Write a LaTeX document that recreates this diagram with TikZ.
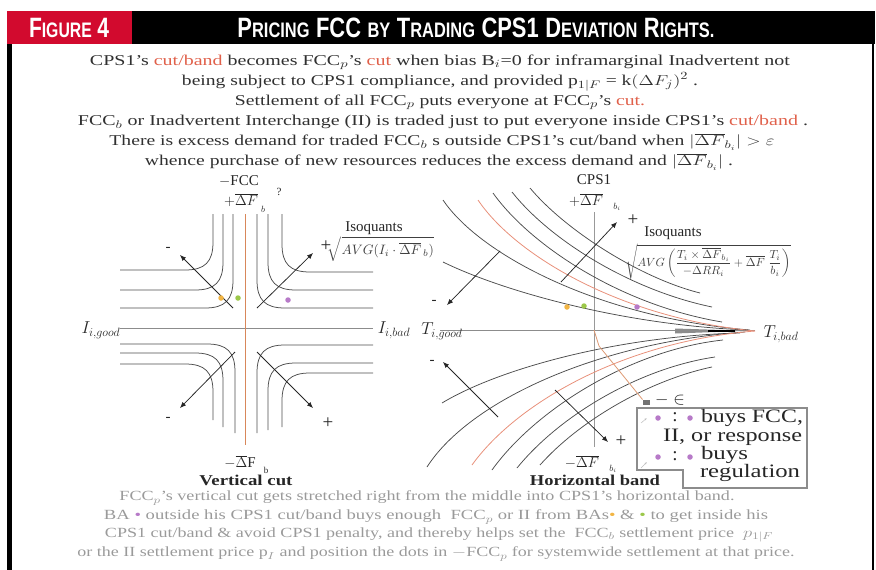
\documentclass[tikz,border=0pt]{standalone}
\usepackage{fontspec}
\setmainfont{Liberation Serif}
\newfontfamily\hdfont{Liberation Sans}
\usepackage{graphicx}
\usetikzlibrary{arrows.meta}
\definecolor{hdred}{HTML}{D20A2E}
\definecolor{cutred}{HTML}{E0604A}
\definecolor{curvered}{HTML}{E8907A}
\definecolor{axisorange}{HTML}{D8875A}
\definecolor{dotorange}{HTML}{F2B544}
\definecolor{dotgreen}{HTML}{9CC84A}
\definecolor{dotpurple}{HTML}{B77AC8}
\definecolor{bodytext}{HTML}{303030}
\definecolor{foottext}{HTML}{9A9A9A}
\newcommand\hdL[1]{{\fontsize{28}{28}\selectfont #1}}
\newcommand\hdS[1]{{\fontsize{21}{21}\selectfont #1}}
\newcommand\fitw[2]{\resizebox{#1}{\height}{#2}}
\begin{document}
\begin{tikzpicture}[x=1pt,y=-1pt,
  every node/.style={inner sep=0pt, outer sep=0pt},
  body/.style={text=bodytext, font=\fontsize{15}{16}\selectfont},
  foot/.style={text=foottext, font=\fontsize{14}{15}\selectfont},
  lab/.style={text=black!85, font=\fontsize{15}{15}\selectfont},
  sublab/.style={text=black!85, font=\fontsize{9}{9}\selectfont},
  iso/.style={black!70, line width=0.75pt},
  isored/.style={curvered, line width=0.8pt},
  arr/.style={black!85, line width=0.75pt, -{Latex[length=6pt,width=5pt]}},
  pdot/.style={circle, fill=#1, minimum size=5.5pt},
  legtext/.style={text=black!85, font=\fontsize{19}{19}\selectfont},
]
\useasboundingbox (0,0) rectangle (876,570);
% ---------- header and frame ----------
\fill[hdred] (7,11) rectangle (132,44);
\fill[black] (132,11) rectangle (875,44);
\fill[black] (7,44) rectangle (12,570);
\draw[black, line width=1.2pt] (873,44) -- (873,570);
\node[text=white] (figlabel) at (69,28) {\hdfont\bfseries\fontsize{26}{26}\selectfont\fitw{80pt}{\hdL{F}\hdS{IGURE} \hdL{4}}};
\node[text=white] (title) at (476,28) {\hdfont\bfseries\fontsize{30}{30}\selectfont\fitw{477pt}{\hdL{P}\hdS{RICING} \hdL{FCC} \hdS{BY} \hdL{T}\hdS{RADING} \hdL{CPS1} \hdL{D}\hdS{EVIATION} \hdL{R}\hdS{IGHTS.}}};
% ---------- top text ----------
\node[body] (t1) at (440,62) {\fitw{700pt}{CPS1's \textcolor{cutred}{cut/band} becomes FCC$_p$'s \textcolor{cutred}{cut} when bias B$_i$=0 for inframarginal Inadvertent not}};
\node[body] (t2) at (440,82) {\fitw{516pt}{being subject to CPS1 compliance, and provided p$_{1|F}$ = k$(\Delta F_j)^2$ .}};
\node[body] (t3) at (440,102) {\fitw{410pt}{Settlement of all FCC$_p$ puts everyone at FCC$_p$'s \textcolor{cutred}{cut.}}};
\node[body] (t4) at (443,122) {\fitw{730pt}{FCC$_b$ or Inadvertent Interchange (II) is traded just to put everyone inside CPS1's \textcolor{cutred}{cut/band} .}};
\node[body] (t5) at (442,142) {\fitw{665pt}{There is excess demand for traded FCC$_b$ s outside CPS1's cut/band when $|\overline{\Delta F}_{b_i}| > \varepsilon$}};
\node[body] (t6) at (439,162) {\fitw{588pt}{whence purchase of new resources reduces the excess demand and $|\overline{\Delta F}_{b_i}|$ .}};
% ---------- left diagram ----------
\draw[black!45, line width=0.7pt] (120,328) -- (373,328);
\draw[axisorange, line width=0.8pt] (245,214) -- (245,445);
\begin{scope}[shift={(245,328)}]
 \foreach \dx/\dy in {32/58,22/38,12/20}
  \draw[iso] (-125,-\dy) -- (-\dx-28,-\dy) .. controls (-\dx-8,-\dy) and (-\dx,-\dy-8) .. (-\dx,-\dy-28) -- (-\dx,-114);
 \foreach \dx/\dy in {37/56,23/38,12/20}
  \draw[iso] (128,-\dy) -- (\dx+28,-\dy) .. controls (\dx+8,-\dy) and (\dx,-\dy-8) .. (\dx,-\dy-28) -- (\dx,-114);
 \foreach \dx/\dy/\e in {32/36/92,22/25/99,10/16/105}
  \draw[iso] (-125,\dy) -- (-\dx-28,\dy) .. controls (-\dx-8,\dy) and (-\dx,\dy+8) .. (-\dx,\dy+28) -- (-\dx,\e);
 \foreach \dx/\dy/\e in {37/45/99,23/35/102,12/17/105}
  \draw[iso] (128,\dy) -- (\dx+28,\dy) .. controls (\dx+8,\dy) and (\dx,\dy+8) .. (\dx,\dy+28) -- (\dx,\e);
\end{scope}
\coordinate (lula) at (233,308); \coordinate (lulb) at (180,255);
\coordinate (lura) at (257,308); \coordinate (lurb) at (313,253);
\coordinate (llla) at (235,352); \coordinate (lllb) at (180,408);
\coordinate (llra) at (257,352); \coordinate (llrb) at (313,408);
\draw[arr] (lula) -- (lulb);
\draw[arr] (lura) -- (lurb);
\draw[arr] (llla) -- (lllb);
\draw[arr] (llra) -- (llrb);
\node[lab] (lm1) at (168,249) {-};
\node[lab, font=\fontsize{19}{19}\selectfont] (lp1) at (326,246) {+};
\node[lab] (lm2) at (168,419) {-};
\node[lab, font=\fontsize{19}{19}\selectfont] (lp2) at (328,423) {+};
\node[pdot=dotorange] (ldo) at (221,298) {};
\node[pdot=dotgreen] (ldg) at (238,298) {};
\node[pdot=dotpurple] (ldp) at (288,300) {};
\node[lab] (ltopa) at (239,181) {$-$FCC};
\node[lab, font=\fontsize{11}{11}\selectfont] (ltopq) at (279,192) {?};
\node[lab] (ltopb) at (241,200) {$+\overline{\Delta F}$};
\node[sublab] (ltopc) at (263,209) {$b$};
\node[lab] (lisoq) at (374,228) {Isoquants};
\node[text=black!75] (lrad) at (381,249) {\resizebox{106pt}{!}{$\sqrt{AVG(I_i\cdot\overline{\Delta F}_{\,b})}$}};
\node[lab, font=\fontsize{17}{17}\selectfont] (ligood) at (101,330) {$I_{i,good}$};
\node[lab, font=\fontsize{17}{17}\selectfont] (libad) at (394,330) {$I_{i,bad}$};
\node[lab] (lbot) at (240,462) {$-\overline{\Delta}$F};
\node[sublab] (lbotb) at (266,470) {b};
\node[lab] (vcut) at (246,480) {\fitw{93pt}{\bfseries Vertical cut}};
% ---------- right diagram ----------
\draw[black!45, line width=0.7pt] (440,330) -- (755,330);
\draw[black!40, line width=0.7pt] (594,212) -- (594,447);
\draw[iso] (443,262) .. controls (500,290) and (620,325) .. (748,330);
\draw[iso] (443,200) .. controls (480,255) and (600,318) .. (750,330);
\draw[isored] (478,200) .. controls (515,255) and (620,318) .. (755,331);
\draw[iso] (493,193) .. controls (530,245) and (620,305) .. (722,322);
\draw[iso] (512,192) .. controls (550,240) and (630,290) .. (712,307);
\draw[iso] (530,188) .. controls (565,230) and (640,278) .. (700,293);
\draw[iso] (442,403) .. controls (500,368) and (620,336) .. (740,333);
\draw[iso] (427,467) .. controls (470,400) and (600,342) .. (745,332);
\draw[isored] (472,465) .. controls (515,405) and (620,342) .. (755,331);
\draw[iso] (492,470) .. controls (535,410) and (630,350) .. (723,340);
\draw[iso] (517,468) .. controls (560,415) and (640,368) .. (715,357);
\draw[iso] (540,465) .. controls (580,420) and (650,380) .. (712,367);
\fill[black!45] (675,328.5) -- (748,330.8) -- (675,333.5) -- cycle;
\draw[black, line width=1.6pt] (708,331) -- (735,331);
\coordinate (ra1) at (561,282); \coordinate (rb1) at (617,222);
\coordinate (ra2) at (500,251); \coordinate (rb2) at (447,305);
\coordinate (ra3) at (498,417); \coordinate (rb3) at (443,362);
\coordinate (ra4) at (555,390); \coordinate (rb4) at (608,442);
\draw[arr] (ra1) -- (rb1);
\draw[arr] (ra2) -- (rb2);
\draw[arr] (ra3) -- (rb3);
\draw[arr] (ra4) -- (rb4);
\node[lab, font=\fontsize{19}{19}\selectfont] (rp1) at (633,220) {+};
\node[lab] (rm1) at (434,302) {-};
\node[lab] (rm2) at (432,362) {-};
\node[lab, font=\fontsize{19}{19}\selectfont] (rp2) at (621,441) {+};
\node[pdot=dotorange] (rdo) at (567,307) {};
\node[pdot=dotgreen] (rdg) at (584,306) {};
\node[pdot=dotpurple] (rdp) at (637,307) {};
\node[lab] (rtopa) at (594,180) {CPS1};
\node[lab] (rtopb) at (586,200) {$+\overline{\Delta F}$};
\node[sublab] (rtopc) at (617,207) {$b_i$};
\node[lab] (risoq) at (673,233) {Isoquants};
\node[text=black!75] (rrad) at (708,262) {\resizebox{165pt}{!}{$\sqrt{AVG\left(\displaystyle\frac{T_i\times\overline{\Delta F}_{b_i}}{-\Delta RR_i}+\overline{\Delta F}\;\frac{T_i}{b_i}\right)}$}};
\node[lab, font=\fontsize{17}{17}\selectfont] (rtgood) at (442,331) {$T_{i,good}$};
\node[lab, font=\fontsize{17}{17}\selectfont] (rtbad) at (781,334) {$T_{i,bad}$};
\node[lab] (rbot) at (582,462) {$-\overline{\Delta F}$};
\node[sublab] (rbotb) at (613,469) {$b_i$};
\node[lab] (hband) at (595,480) {\fitw{130pt}{\bfseries Horizontal band}};
% epsilon marker and orange cut line
\node[fill=black!55, minimum width=7pt, minimum height=5pt] (epsmark) at (646,402) {};
\node[lab, font=\fontsize{18}{18}\selectfont] (epslab) at (670,400) {$-\in$};
\draw[axisorange!85, line width=0.8pt] (594,330) -- (599,346) -- (epsmark.north west);
% legend
\draw[black!45, line width=1.4pt] (637,408) -- (807,408) -- (807,488) -- (683,488) -- (683,470) -- (637,470) -- cycle;
\draw[black!25, line width=0.5pt, -{Latex[length=2.5pt,width=2pt]}] (641,423) -- (647,418);
\draw[black!25, line width=0.5pt, -{Latex[length=2.5pt,width=2pt]}] (641,468) -- (647,462);
\node[pdot=dotpurple] (lg1a) at (658,418) {};
\node[legtext] (lg1c) at (675,417) {:};
\node[pdot=dotpurple] (lg1b) at (690,418) {};
\node[legtext, anchor=west] (lg1t) at (701,418) {\fitw{102pt}{buys FCC,}};
\node[legtext, anchor=west] (lg2t) at (663,437) {\fitw{139pt}{II, or response}};
\node[pdot=dotpurple] (lg3a) at (658,457) {};
\node[legtext] (lg3c) at (675,456) {:};
\node[pdot=dotpurple] (lg3b) at (690,457) {};
\node[legtext, anchor=west] (lg3t) at (701,455) {\fitw{47pt}{buys}};
\node[legtext, anchor=west] (lg4t) at (700,473) {\fitw{100pt}{regulation}};
% ---------- bottom text ----------
\node[foot] (b1) at (427,498) {\fitw{615pt}{FCC$_p$'s vertical cut gets stretched right from the middle into CPS1's horizontal band.}};
\node[foot] (b2) at (436,517) {\fitw{664pt}{BA {\color{dotpurple}•} outside his CPS1 cut/band buys enough \ FCC$_p$ or II from BAs{\color{dotorange}•} \& {\color{dotgreen}•} to get inside his}};
\node[foot] (b3) at (439,535) {\fitw{668pt}{CPS1 cut/band \& avoid CPS1 penalty, and thereby helps set the \ FCC$_b$ settlement price \ $p_{1|F}$}};
\node[foot] (b4) at (436,554) {\fitw{717pt}{or the II settlement price p$_I$ and position the dots in $-$FCC$_p$ for systemwide settlement at that price.}};
\end{tikzpicture}
\end{document}
